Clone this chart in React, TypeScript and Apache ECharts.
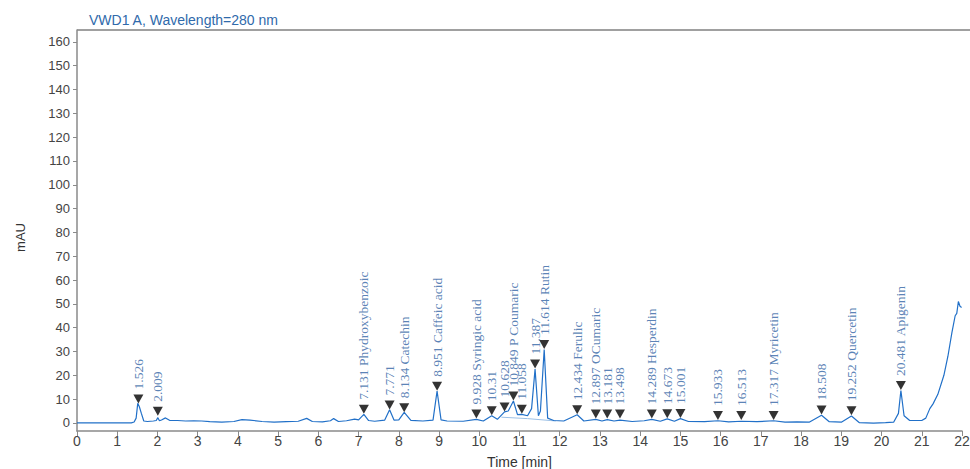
import React, { useEffect, useRef } from "react";
import * as echarts from "echarts";

const chartTitle = "VWD1 A, Wavelength=280 nm";
const xAxisName = "Time [min]";
const yAxisName = "mAU";
const yTickValues = [0, 10, 20, 30, 40, 50, 60, 70, 80, 90, 100, 110, 120, 130, 140, 150, 160];

// chromatogram trace [time (min), absorbance (mAU)]
const signal: [number, number][] = [
  [0, 0], [1.35, 0], [1.42, 0.4], [1.47, 2], [1.51, 8.2], [1.55, 6.8], [1.6, 4], [1.66, 0.8],
  [1.75, 0.6], [1.9, 0.8], [1.97, 1], [2.01, 2.2], [2.05, 0.9], [2.1, 1.2], [2.2, 2.1], [2.3, 1.1],
  [2.5, 1], [2.7, 0.8], [2.9, 0.9], [3.1, 0.8], [3.3, 0.5], [3.6, 0.3], [3.9, 0.6], [4.1, 1.4],
  [4.3, 1.2], [4.6, 0.6], [4.9, 0.3], [5.2, 0.5], [5.5, 0.7], [5.71, 1.9], [5.85, 0.6], [6.1, 0.4],
  [6.3, 0.9], [6.38, 1.8], [6.5, 0.6], [6.7, 0.9], [6.9, 1.6], [7.0, 1.3], [7.131, 3.6], [7.25, 1],
  [7.4, 0.7], [7.65, 1.2], [7.771, 5.5], [7.88, 1.2], [8.0, 1.3], [8.134, 4.4], [8.3, 1.1], [8.6, 0.8],
  [8.85, 1.2], [8.951, 13.4], [9.05, 1.3], [9.2, 0.8], [9.6, 0.7], [9.928, 1.5], [10.1, 0.8],
  [10.31, 3], [10.45, 1.5], [10.628, 4.6], [10.72, 5], [10.849, 9.2], [10.95, 3.5], [11.058, 3.6],
  [11.2, 3], [11.3, 6], [11.387, 22.6], [11.47, 3], [11.52, 5], [11.614, 30.8], [11.7, 2], [11.85, 1],
  [12.1, 0.8], [12.434, 3.4], [12.6, 0.8], [12.897, 1.5], [13.05, 0.8], [13.181, 1.4], [13.35, 0.8],
  [13.498, 1.2], [13.8, 0.6], [14.1, 0.9], [14.289, 1.5], [14.5, 0.7], [14.673, 1.7], [14.85, 0.7],
  [15.001, 1.8], [15.2, 0.6], [15.6, 0.5], [15.933, 0.9], [16.2, 0.4], [16.513, 0.7], [16.9, 0.5],
  [17.317, 0.9], [17.6, 0.3], [17.9, 0.4], [18.2, 0.3], [18.508, 3.2], [18.7, 0.5], [19.0, 0.3],
  [19.252, 2.9], [19.45, 0.1], [19.8, -0.1], [20.1, 0.1], [20.3, 0.3], [20.42, 4], [20.481, 13.6],
  [20.56, 3], [20.7, 1], [21.0, 1], [21.1, 2], [21.2, 6], [21.28, 8], [21.4, 12], [21.55, 20],
  [21.65, 28], [21.75, 38], [21.83, 45], [21.87, 46], [21.91, 51], [21.95, 49], [21.99, 48.5],
];

// integration baseline under the 10.6–11.9 min cluster
const integrationBaseline: [number, number][] = [
  [10.55, 2.4], [11.2, 1.8], [11.9, 0.8],
];

const peakTimes = [
  1.526, 2.009, 7.131, 7.771, 8.134, 8.951, 9.928, 10.31, 10.628, 10.849, 11.058, 11.387, 11.614,
  12.434, 12.897, 13.181, 13.498, 14.289, 14.673, 15.001, 15.933, 16.513, 17.317, 18.508, 19.252, 20.481,
];
const peakHeights = [
  8.2, 3.0, 3.8, 5.6, 4.5, 13.5, 1.8, 3.2, 4.8, 9.4, 3.8, 22.8, 31,
  3.6, 1.9, 1.9, 1.9, 1.9, 2.0, 2.1, 1.2, 1.2, 1.2, 3.5, 3.2, 13.8,
];
const peakNames = [
  "1.526", "2.009", "7.131 Phydroxybenzoic", "7.771", "8.134 Catechin", "8.951 Caffeic acid",
  "9.928 Syringic acid", "10.31", "10.628", "10.849 P Coumaric", "11.058", "11.387", "11.614 Rutin",
  "12.434 Ferulic", "12.897 OCumaric", "13.181", "13.498", "14.289 Hesperdin", "14.673", "15.001",
  "15.933", "16.513", "17.317 Myricetin", "18.508", "19.252 Quercetin", "20.481 Apigenin",
];

export default function App() {
  const ref = useRef<HTMLDivElement>(null);
  useEffect(() => {
    const chart = echarts.init(ref.current!, null, { renderer: "svg" });
    const axisGray = "#8a8a8a";
    chart.setOption({
      animation: false,
      backgroundColor: "#ffffff",
      title: {
        text: chartTitle,
        left: 84,
        top: 8,
        textStyle: { color: "#2f6aab", fontSize: 14, fontWeight: "normal", fontFamily: "Liberation Sans" },
      },
      grid: { left: 77, right: 8, top: 30, bottom: 38, outerBoundsMode: "none", containLabel: false },
      xAxis: {
        type: "value",
        min: 0,
        max: 22,
        interval: 1,
        name: xAxisName,
        nameLocation: "middle",
        nameGap: 24,
        nameTextStyle: { color: "#333", fontSize: 14, fontFamily: "Liberation Sans" },
        axisLine: { show: true, onZero: false, lineStyle: { color: axisGray, width: 1.5 } },
        axisTick: { show: true, length: 5, lineStyle: { color: axisGray } },
        axisLabel: { color: "#444", fontSize: 14, margin: 3, fontFamily: "Liberation Sans" },
        splitLine: { show: false },
      },
      yAxis: {
        type: "value",
        min: -3.4,
        max: 165,
        name: yAxisName,
        nameLocation: "middle",
        nameGap: 50,
        nameTextStyle: { color: "#333", fontSize: 13, fontFamily: "Liberation Sans", padding: [0, 14, 0, 0] },
        axisLine: { show: true, lineStyle: { color: axisGray, width: 1.5 } },
        axisTick: { show: true, length: 4, customValues: yTickValues, lineStyle: { color: axisGray } },
        axisLabel: { color: "#444", fontSize: 13, margin: 7, customValues: yTickValues, fontFamily: "Liberation Sans" },
        splitLine: { show: false },
      },
      graphic: [
        {
          type: "line",
          shape: { x1: 77, y1: 30, x2: 970, y2: 30 },
          style: { stroke: "#a0a0a0", lineWidth: 2 },
          silent: true,
        },
      ],
      series: [
        {
          type: "line",
          data: integrationBaseline,
          symbol: "none",
          lineStyle: { color: "#9cc0e6", width: 1 },
          z: 1,
        },
        {
          type: "line",
          data: signal,
          symbol: "none",
          lineStyle: { color: "#2170c8", width: 1.2 },
          z: 2,
        },
        {
          type: "scatter",
          data: peakTimes.map((t, i) => [t, peakHeights[i]]),
          symbol: "triangle",
          symbolRotate: 180,
          symbolSize: [10, 9],
          symbolOffset: [0, -4.5],
          itemStyle: { color: "#000" },
          z: 3,
          label: {
            show: true,
            position: "top",
            distance: 5,
            rotate: 90,
            align: "left",
            verticalAlign: "middle",
            formatter: (p: any) => peakNames[p.dataIndex],
            color: "#2f62a3",
            fontSize: 13.5,
            fontFamily: "Liberation Serif",
          },
        },
      ],
    });
    return () => chart.dispose();
  }, []);
  return <div ref={ref} style={{ position: "fixed", left: 0, top: 0, width: 970, height: 469 }} />;
}
